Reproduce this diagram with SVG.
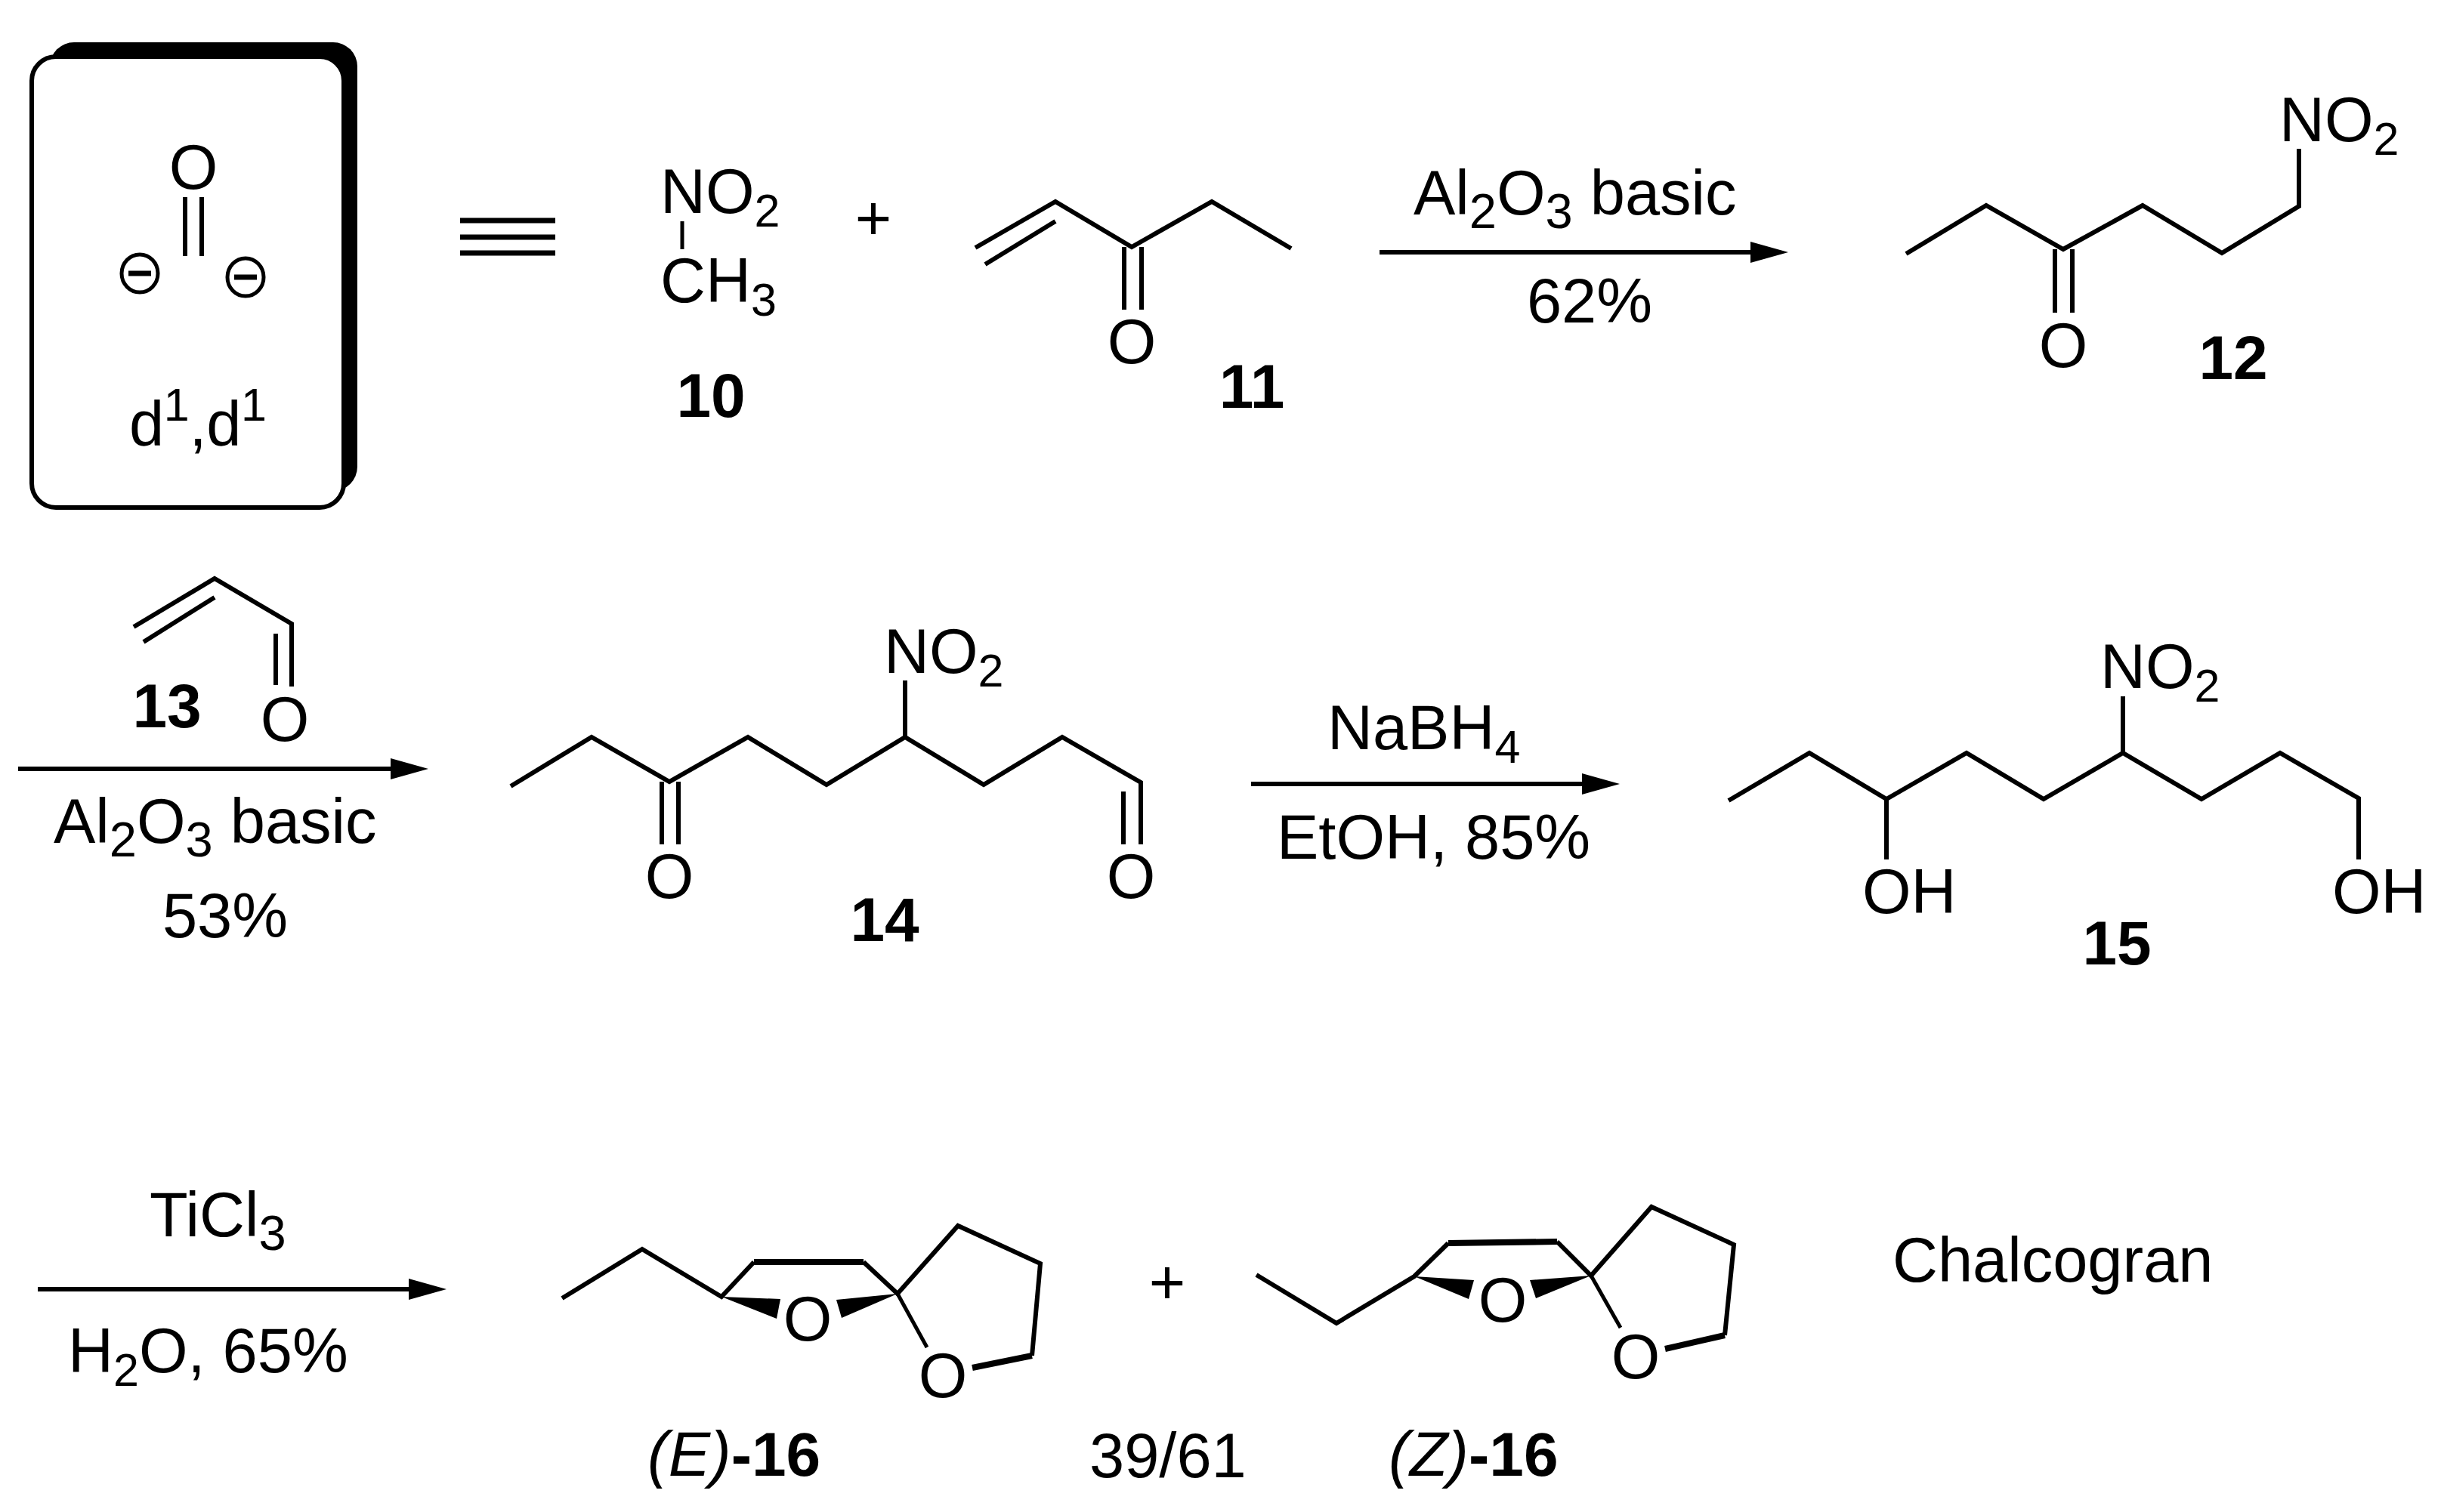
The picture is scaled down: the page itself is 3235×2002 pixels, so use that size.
<svg xmlns="http://www.w3.org/2000/svg" width="3235" height="2002" viewBox="0 0 3235 2002">
<style>
text{font-family:"Liberation Sans",Arial,sans-serif;font-size:83px;fill:#000}
.b{font-weight:bold;font-size:82px}
.i{font-style:italic}
.s{font-size:61px}
.t{font-size:65px}
.bond{fill:none;stroke:#000;stroke-width:6;stroke-linejoin:miter}
.thin{fill:none;stroke:#000;stroke-width:5}
.bold{fill:none;stroke:#000;stroke-width:8}
.arrow{fill:none;stroke:#000;stroke-width:6}
</style>
<defs>
<marker id="head" markerUnits="userSpaceOnUse" markerWidth="50" markerHeight="28" viewBox="0 0 50 28" refX="10" refY="14" orient="auto"><path d="M0 0L50 14L0 28Z" fill="#000"/></marker>
</defs>
<rect width="3235" height="2002" fill="#fff"/>
<g id="connectors">
<line class="arrow" x1="1826" y1="334" x2="2327" y2="334" marker-end="url(#head)"/>
<line class="arrow" x1="24" y1="1018" x2="527" y2="1018" marker-end="url(#head)"/>
<line class="arrow" x1="1656" y1="1038" x2="2104" y2="1038" marker-end="url(#head)"/>
<line class="arrow" x1="50" y1="1707" x2="551" y2="1707" marker-end="url(#head)"/>
</g>
<g id="synthon-box">
<rect x="66" y="56" width="407" height="594" rx="32" fill="#000"/>
<rect x="42" y="75" width="413" height="597" rx="32" fill="#fff" stroke="#000" stroke-width="6"/>
<text x="256" y="250" text-anchor="middle">O</text>
<path class="bond" d="M245 261V339M267 261V339"/>
<ellipse cx="185" cy="362" rx="24" ry="25" fill="none" stroke="#000" stroke-width="5"/>
<path d="M170 362H200" stroke="#000" stroke-width="7"/>
<ellipse cx="325" cy="367" rx="24" ry="25" fill="none" stroke="#000" stroke-width="5"/>
<path d="M310 367H340" stroke="#000" stroke-width="7"/>
<text x="171" y="590" textLength="182">d<tspan class="s" dy="-33">1</tspan><tspan dy="33">,d</tspan><tspan class="s" dy="-33">1</tspan></text>
</g>
<g id="equiv"><path d="M609 292H735M609 314H735M609 335H735" fill="none" stroke="#000" stroke-width="7"/></g>
<g id="n10">
<text x="874" y="282">NO<tspan class="s" dy="18">2</tspan></text>
<path class="thin" d="M903 293V330"/>
<text x="874" y="400">CH<tspan class="s" dy="18">3</tspan></text>
<text class="b" x="941" y="552" text-anchor="middle">10</text>
</g>
<g id="plus1"><text x="1156" y="317" text-anchor="middle">+</text></g>
<g id="n11">
<path class="bond" d="M1291 328L1397 267L1498 327L1604 267L1709 329M1304 350L1397 293M1488 327V410M1511 327V410"/>
<text x="1498" y="481" text-anchor="middle">O</text>
<text class="b" x="1657" y="540" text-anchor="middle">11</text>
</g>
<g id="label-r1">
<text x="1871" y="284">Al<tspan class="t" dy="18">2</tspan><tspan dy="-18">O</tspan><tspan class="t" dy="18">3</tspan><tspan dy="-18"> basic</tspan></text>
<text x="2104" y="427" text-anchor="middle">62%</text>
</g>
<g id="n12">
<path class="bond" d="M2523 336L2629 272L2731 330L2836 272L2941 335L3043 273V197M2720 330V414M2743 330V414"/>
<text x="2731" y="486" text-anchor="middle">O</text>
<text x="3017" y="187">NO<tspan class="s" dy="18">2</tspan></text>
<text class="b" x="2956" y="502" text-anchor="middle">12</text>
</g>
<g id="n13">
<path class="bond" d="M177 830L284 766L386 826V909M190 850L284 791M365 839V907"/>
<text x="377" y="981" text-anchor="middle">O</text>
<text class="b" x="221" y="963" text-anchor="middle">13</text>
</g>
<g id="label-r2">
<text x="71" y="1116">Al<tspan class="t" dy="18">2</tspan><tspan dy="-18">O</tspan><tspan class="t" dy="18">3</tspan><tspan dy="-18"> basic</tspan></text>
<text x="298" y="1241" text-anchor="middle">53%</text>
</g>
<g id="n14">
<path class="bond" d="M676 1041L783 976L886 1035L990 976L1094 1039L1198 976L1302 1039L1406 976L1510 1036V1118M1487 1048V1118M876 1035V1118M898 1035V1118M1198 976V901"/>
<text x="1170" y="891">NO<tspan class="s" dy="18">2</tspan></text>
<text x="886" y="1189" text-anchor="middle">O</text>
<text x="1497" y="1189" text-anchor="middle">O</text>
<text class="b" x="1171" y="1246" text-anchor="middle">14</text>
</g>
<g id="label-r3">
<text x="1757" y="992">NaBH<tspan class="s" dy="18">4</tspan></text>
<text x="1690" y="1137">EtOH, 85%</text>
</g>
<g id="n15">
<path class="bond" d="M2288 1060L2395 997L2497 1058L2603 997L2705 1058L2810 997L2914 1058L3018 997L3122 1057V1138M2497 1058V1138M2810 997V922"/>
<text x="2780" y="911">NO<tspan class="s" dy="18">2</tspan></text>
<text x="2465" y="1209">OH</text>
<text x="3087" y="1209">OH</text>
<text class="b" x="2802" y="1277" text-anchor="middle">15</text>
</g>
<g id="label-r4">
<text x="198" y="1637">TiCl<tspan class="t" dy="18">3</tspan></text>
<text x="90" y="1817">H<tspan class="s" dy="18">2</tspan><tspan dy="-18">O, 65%</tspan></text>
</g>
<g id="E-16">
<path class="bond" d="M744 1719L850 1654L955 1717L998 1671"/>
<path class="bold" d="M998 1671H1143"/>
<path class="bond" d="M1143 1671L1188 1713L1268 1623L1377 1673L1366 1795"/>
<path class="bold" d="M1366 1795L1287 1811"/>
<path class="thin" d="M1188 1713L1227 1784"/>
<path d="M955 1717L1033 1720L1028 1746Z"/>
<path d="M1188 1713L1107 1721L1114 1745Z"/>
<text x="1069" y="1775" text-anchor="middle">O</text>
<text x="1248" y="1850" text-anchor="middle">O</text>
<text x="857" y="1954" class="i">(E)<tspan class="b" style="font-style:normal">-16</tspan></text>
</g>
<g id="plus2"><text x="1545" y="1726" text-anchor="middle">+</text></g>
<g id="Z-16">
<path class="bond" d="M1663 1688L1769 1752L1872 1690L1917 1646"/>
<path class="bold" d="M1917 1646L2061 1644"/>
<path class="bond" d="M2061 1644L2106 1689L2186 1598L2295 1648L2283 1768"/>
<path class="bold" d="M2283 1768L2204 1786"/>
<path class="thin" d="M2106 1689L2145 1758"/>
<path d="M1872 1690L1951 1695L1944 1720Z"/>
<path d="M2106 1689L2025 1695L2033 1719Z"/>
<text x="1989" y="1750" text-anchor="middle">O</text>
<text x="2165" y="1825" text-anchor="middle">O</text>
<text x="1838" y="1954" class="i">(Z)<tspan class="b" style="font-style:normal">-16</tspan></text>
</g>
<g id="labels">
<text x="1442" y="1956">39/61</text>
<text x="2505" y="1697">Chalcogran</text>
</g>
</svg>
